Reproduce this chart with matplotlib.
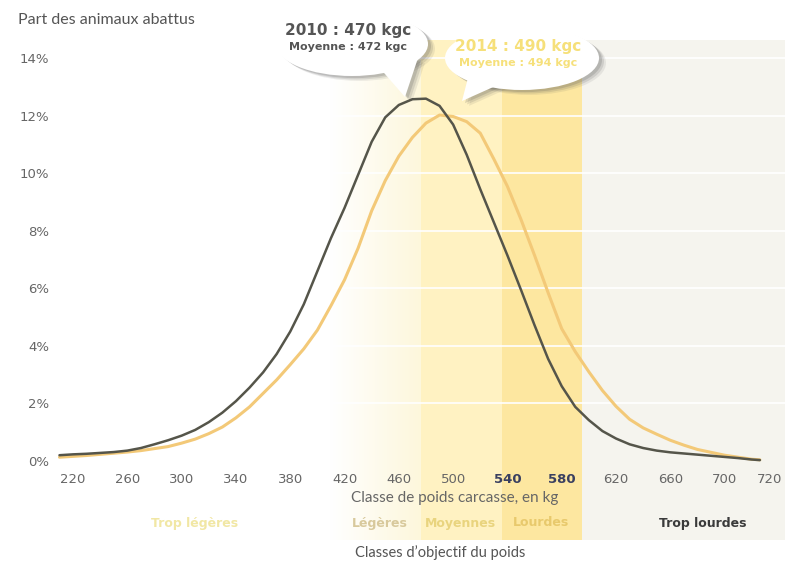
import numpy as np
import matplotlib
matplotlib.use("Agg")
import matplotlib.pyplot as plt
from matplotlib.patches import Ellipse, Polygon

# courbes (kg, % des animaux)
kg = [210, 220, 230, 240, 250, 260, 270, 280, 290, 300, 310, 320, 330, 340, 350, 360, 370,
      380, 390, 400, 410, 420, 430, 440, 450, 460, 470, 480, 490, 500, 510, 520, 530, 540,
      550, 560, 570, 580, 590, 600, 610, 620, 630, 640, 650, 660, 670, 680, 690, 700, 710,
      720, 726]
pct_2010 = [0.2, 0.23, 0.25, 0.28, 0.31, 0.36, 0.45, 0.58, 0.72, 0.88, 1.08, 1.35, 1.68, 2.08,
            2.55, 3.08, 3.72, 4.5, 5.45, 6.6, 7.75, 8.8, 9.95, 11.1, 11.95, 12.38, 12.58, 12.6,
            12.35, 11.7, 10.65, 9.45, 8.3, 7.15, 5.95, 4.72, 3.55, 2.6, 1.88, 1.42, 1.04, 0.78,
            0.58, 0.45, 0.36, 0.3, 0.26, 0.22, 0.18, 0.14, 0.1, 0.05, 0.03]
pct_2014 = [0.13, 0.16, 0.19, 0.23, 0.27, 0.31, 0.36, 0.43, 0.5, 0.62, 0.76, 0.95, 1.18, 1.5,
            1.88, 2.35, 2.82, 3.35, 3.9, 4.55, 5.4, 6.3, 7.4, 8.7, 9.75, 10.6, 11.25, 11.75,
            12.03, 11.98, 11.8, 11.4, 10.5, 9.55, 8.4, 7.15, 5.85, 4.6, 3.8, 3.1, 2.45, 1.9,
            1.45, 1.15, 0.93, 0.72, 0.55, 0.4, 0.3, 0.2, 0.13, 0.06, 0.04]

xtick_pos = [220, 260, 300, 340, 380, 420, 460, 500, 540, 580, 620, 660, 700, 733]
xtick_lab = ["220", "260", "300", "340", "380", "420", "460", "500", "540", "580",
             "620", "660", "700", "720"]
ytick_vals = [0, 2, 4, 6, 8, 10, 12, 14]

band_edges = [409, 476, 536, 595, 745]
band_names = ["Légères", "Moyennes", "Lourdes", "Trop lourdes"]
band_colors = ["#fdf7dc", "#fff2c2", "#fde7a0", "#f5f4ee"]
band_label_colors = ["#d8c99c", "#e9d47e", "#e8c96c", "#3a3a3a"]

fig = plt.figure(figsize=(7.85, 5.72), dpi=100)
W, H = 785, 572
ax = fig.add_axes([55 / W, (H - 467) / H, (785 - 55) / W, (467 - 40) / H])
ymin_ext = -(540 - 467) / (467 - 40)

# bandes de classes d'objectif
grad = np.linspace(0, 1, 100).reshape(1, -1)
cmap = matplotlib.colors.LinearSegmentedColormap.from_list("g", ["#ffffff", band_colors[0]])
ax.imshow(grad, cmap=cmap, aspect="auto", extent=[band_edges[0], band_edges[1], -2.75, 14.64],
          zorder=0, clip_on=False)
for i in range(1, 4):
    ax.axvspan(band_edges[i], band_edges[i + 1], ymin=ymin_ext, ymax=1,
               color=band_colors[i], lw=0, zorder=0, clip_on=False)
ax.set_xlim(206.7, 744.5)
ax.set_ylim(-0.21, 14.64)

for v in ytick_vals[1:]:
    ax.axhline(v, color="white", lw=1.2, zorder=1)

ax.plot(kg, pct_2014, color="#f3c978", lw=2.2, zorder=3, solid_capstyle="round")
ax.plot(kg, pct_2010, color="#55554a", lw=1.8, zorder=4, solid_capstyle="round")

for s in ax.spines.values():
    s.set_visible(False)
ax.set_xticks(xtick_pos)
ax.set_xticklabels(xtick_lab)
ax.set_yticks(ytick_vals)
ax.set_yticklabels([f"{v}%" for v in ytick_vals])
ax.tick_params(length=0, labelsize=9.5, colors="#666666", pad=4)
for t in ax.get_xticklabels():
    if t.get_text() in ("540", "580"):
        t.set_color("#3a4060")
        t.set_fontweight("bold")

# couche en pixels pour les textes et bulles
ov = fig.add_axes([0, 0, 1, 1], zorder=10)
ov.set_xlim(0, W)
ov.set_ylim(H, 0)
ov.axis("off")
ov.patch.set_alpha(0)

ov.text(18, 20, "Part des animaux abattus", fontsize=11.5, color="#555555", family="Lato",
        va="center", ha="left")
ov.text(455, 498, "Classe de poids carcasse, en kg", fontsize=11, color="#666666",
        family="Lato", ha="center", va="center")
ov.text(440, 553, "Classes d\u2019objectif du poids", fontsize=10.5, color="#555555",
        family="Lato", ha="center", va="center")

ov.text(195, 523, "Trop légères", fontsize=9, color="#f1e7a4", ha="center", va="center",
        fontweight="bold")
label_x = [380, 460, 541, 703]
for x, name, c in zip(label_x, band_names, band_label_colors):
    ov.text(x, 523, name, fontsize=9, color=c, ha="center", va="center", fontweight="bold")


def bubble(cx, cy, w, h, tail, lines, color):
    for k, a in zip([7, 5, 3], [0.10, 0.15, 0.2]):
        ov.add_patch(Ellipse((cx + k, cy + k * 0.7), w, h, color="#555555", alpha=a, lw=0))
        ov.add_patch(Polygon([(p[0] + k, p[1] + k * 0.7) for p in tail], closed=True,
                             color="#555555", alpha=a, lw=0))
    ov.add_patch(Polygon(tail, closed=True, color="white", lw=0))
    ov.add_patch(Ellipse((cx, cy), w, h, color="white", lw=0))
    (t1, y1, s1), (t2, y2, s2) = lines
    ov.text(cx - 4, y1, t1, fontsize=s1, color=color, fontweight="bold", ha="center", va="center")
    ov.text(cx - 4, y2, t2, fontsize=s2, color=color, fontweight="bold", ha="center", va="center")


bubble(352, 44, 152, 64, [(378, 66), (418, 58), (405, 97)],
       [("2010 : 470 kgc", 31, 11), ("Moyenne : 472 kgc", 47, 8)], "#555555")
bubble(522, 58, 154, 64, [(470, 70), (500, 84), (462, 101)],
       [("2014 : 490 kgc", 47, 11), ("Moyenne : 494 kgc", 63, 8)], "#f6e07a")

fig.savefig("out.png", dpi=100)
